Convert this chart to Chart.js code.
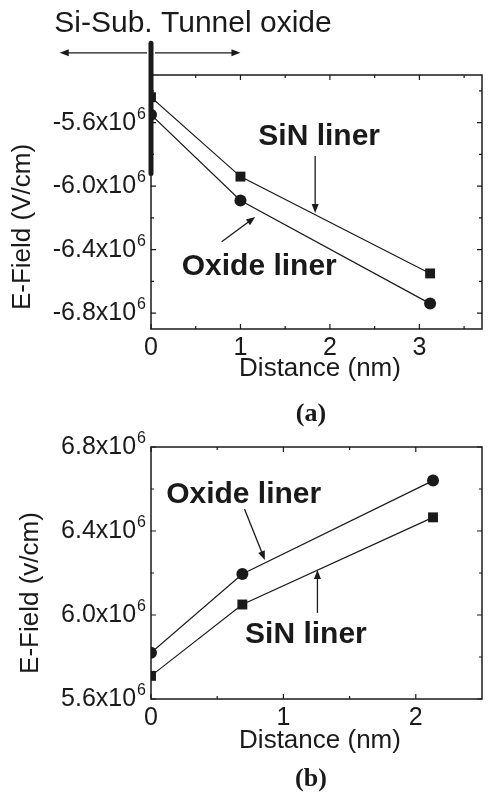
<!DOCTYPE html>
<html>
<head>
<meta charset="utf-8">
<script src="https://cdn.jsdelivr.net/npm/chart.js@4.4.0/dist/chart.umd.min.js"></script>
<style>
    html, body { margin: 0; padding: 0; background: #fff; overflow: hidden; }
    canvas { position: absolute; left: 0; display: block; }
    #chartA { top: 0; }
    #chartB { top: 430px; }
</style>
</head>
<body>
<canvas id="chartA" width="489" height="430"></canvas>
<canvas id="chartB" width="489" height="364"></canvas>
<script>
// values in units of 1e6 V/cm

// panel (a)
const distA = [0, 1, 3.12];
const sinA = [-5.44, -5.94, -6.55];
const oxideA = [-5.55, -6.09, -6.74];
const xTicksA = [0, 1, 2, 3];
const xMinorA = [0.5, 1.5, 2.5, 3.5];
const yTicksA = [-5.6, -6.0, -6.4, -6.8];
const yMinorA = [-5.4, -5.8, -6.2, -6.6];

// panel (b)
const distB = [0, 0.69, 2.13];
const oxideB = [5.82, 6.195, 6.64];
const sinB = [5.71, 6.05, 6.465];
const xTicksB = [0, 1, 2];
const xMinorB = [0.5, 1.5];
const yTicksB = [5.6, 6.0, 6.4, 6.8];
const yMinorB = [5.8, 6.2, 6.6];

// callouts, in data coordinates
const notesA = [
    { text: 'SiN liner', x: 1.88, y: -5.69, arrow: [1.835, -5.81, 1.835, -6.17] },
    { text: 'Oxide liner', x: 1.21, y: -6.505, arrow: [0.79, -6.35, 1.165, -6.195] }
];
const notesB = [
    { text: 'Oxide liner', x: 0.70, y: 6.571, arrow: [0.706, 6.505, 0.86, 6.262] },
    { text: 'SiN liner', x: 1.17, y: 5.905, arrow: [1.257, 6.01, 1.257, 6.214] }
];

const SANS = '"Liberation Sans", Arial, sans-serif';
const INK = '#1a1a1a';

function drawArrow(ctx, x1, y1, x2, y2) {
    const ang = Math.atan2(y2 - y1, x2 - x1);
    const len = 9, half = 3.5;
    ctx.beginPath();
    ctx.moveTo(x1, y1);
    ctx.lineTo(x2 - Math.cos(ang) * len * 0.8, y2 - Math.sin(ang) * len * 0.8);
    ctx.stroke();
    ctx.beginPath();
    ctx.moveTo(x2, y2);
    ctx.lineTo(x2 - Math.cos(ang) * len - Math.sin(ang) * half, y2 - Math.sin(ang) * len + Math.cos(ang) * half);
    ctx.lineTo(x2 - Math.cos(ang) * len + Math.sin(ang) * half, y2 - Math.sin(ang) * len - Math.cos(ang) * half);
    ctx.closePath();
    ctx.fill();
}

// "-6.0x10" with a raised exponent 6
function drawSci(ctx, value, xRight, y) {
    ctx.textBaseline = 'middle';
    ctx.textAlign = 'right';
    ctx.font = '16px ' + SANS;
    const supW = ctx.measureText('6').width;
    ctx.fillText('6', xRight, y - 8.5);
    ctx.font = '25px ' + SANS;
    ctx.fillText(value.toFixed(1) + 'x10', xRight - supW - 1, y);
}

function makeFramePlugin(cfg) {
    return {
        id: 'frame',
        afterDatasetsDraw(chart) {
            const ctx = chart.ctx;
            const a = chart.chartArea;
            const xs = chart.scales.x, ys = chart.scales.y;
            ctx.save();
            ctx.strokeStyle = INK;
            ctx.fillStyle = INK;

            // box
            ctx.lineWidth = 1.5;
            ctx.strokeRect(a.left, a.top, a.right - a.left, a.bottom - a.top);

            // inward ticks on all four sides
            ctx.lineWidth = 1.2;
            const tickX = (v, len) => {
                const px = xs.getPixelForValue(v);
                ctx.beginPath();
                ctx.moveTo(px, a.bottom); ctx.lineTo(px, a.bottom - len);
                ctx.moveTo(px, a.top); ctx.lineTo(px, a.top + len);
                ctx.stroke();
            };
            const tickY = (v, len) => {
                const py = ys.getPixelForValue(v);
                ctx.beginPath();
                ctx.moveTo(a.left, py); ctx.lineTo(a.left + len, py);
                ctx.moveTo(a.right, py); ctx.lineTo(a.right - len, py);
                ctx.stroke();
            };
            cfg.xTicks.forEach(v => tickX(v, 5));
            cfg.xMinor.forEach(v => tickX(v, 3));
            cfg.yTicks.forEach(v => tickY(v, 5));
            cfg.yMinor.forEach(v => tickY(v, 3));

            // tick labels
            ctx.font = '25px ' + SANS;
            ctx.textAlign = 'center';
            ctx.textBaseline = 'middle';
            cfg.xTicks.forEach(v => ctx.fillText(String(v), xs.getPixelForValue(v), a.bottom + 19));
            cfg.yTicks.forEach(v => drawSci(ctx, v, a.left - 5, ys.getPixelForValue(v)));

            // axis titles
            ctx.font = '26px ' + SANS;
            ctx.textAlign = 'center';
            ctx.fillText('Distance (nm)', 320, a.bottom + cfg.xTitleGap);
            ctx.save();
            ctx.translate(cfg.yTitlePos[0], cfg.yTitlePos[1]);
            ctx.rotate(-Math.PI / 2);
            ctx.fillText(cfg.yTitle, 0, 0);
            ctx.restore();

            // panel label
            ctx.font = 'bold 26px "Liberation Serif", "Times New Roman", serif';
            ctx.fillText(cfg.panel, 311, cfg.panelY);

            // callouts
            ctx.font = 'bold 30px ' + SANS;
            ctx.lineWidth = 1.3;
            cfg.notes.forEach(n => {
                ctx.fillText(n.text, xs.getPixelForValue(n.x), ys.getPixelForValue(n.y));
                const [x1, y1, x2, y2] = n.arrow;
                drawArrow(ctx, xs.getPixelForValue(x1), ys.getPixelForValue(y1),
                    xs.getPixelForValue(x2), ys.getPixelForValue(y2));
            });

            if (cfg.interface) {
                const f = cfg.interface;
                const x0 = xs.getPixelForValue(0);
                // thick interface bar
                ctx.lineWidth = 5;
                ctx.lineCap = 'round';
                ctx.beginPath();
                ctx.moveTo(x0, ys.getPixelForValue(f.barTop));
                ctx.lineTo(x0, ys.getPixelForValue(f.barBottom));
                ctx.stroke();
                ctx.lineCap = 'butt';
                // region arrows
                ctx.lineWidth = 1.3;
                const ya = ys.getPixelForValue(f.arrowY);
                drawArrow(ctx, x0 - 4, ya, xs.getPixelForValue(f.leftEnd), ya);
                drawArrow(ctx, x0 + 4, ya, xs.getPixelForValue(f.rightEnd), ya);
                ctx.font = '30px ' + SANS;
                ctx.fillText(f.text, 193, 24);
            }
            ctx.restore();
        }
    };
}

function makeChart(id, cfg) {
    const pts = (xs, ys) => xs.map((x, i) => ({ x: x, y: ys[i] }));
    return new Chart(document.getElementById(id), {
        type: 'line',
        data: {
            datasets: [
                {
                    label: 'SiN liner',
                    data: pts(cfg.dist, cfg.sin),
                    borderColor: INK,
                    backgroundColor: INK,
                    borderWidth: 1.2,
                    pointStyle: 'rect',
                    pointRadius: 7,
                    pointBorderWidth: 0,
                    tension: 0
                },
                {
                    label: 'Oxide liner',
                    data: pts(cfg.dist, cfg.oxide),
                    borderColor: INK,
                    backgroundColor: INK,
                    borderWidth: 1.2,
                    pointStyle: 'circle',
                    pointRadius: 6,
                    pointBorderWidth: 0,
                    tension: 0
                }
            ]
        },
        options: {
            responsive: false,
            animation: false,
            devicePixelRatio: 1,
            layout: { padding: cfg.pad },
            plugins: {
                legend: { display: false },
                tooltip: { enabled: false }
            },
            scales: {
                x: { type: 'linear', min: 0, max: cfg.xMax, display: false },
                y: { type: 'linear', min: cfg.yMin, max: cfg.yMax, display: false }
            }
        },
        plugins: [makeFramePlugin(cfg)]
    });
}

makeChart('chartA', {
    dist: distA, sin: sinA, oxide: oxideA,
    xTicks: xTicksA, xMinor: xMinorA, yTicks: yTicksA, yMinor: yMinorA,
    xMax: 3.7, yMin: -6.9, yMax: -5.3,
    pad: { top: 75, left: 151, right: 1, bottom: 101 },
    notes: notesA,
    yTitle: 'E-Field (V/cm)', yTitlePos: [23, 227], xTitleGap: 40,
    panel: '(a)', panelY: 414,
    interface: { barTop: -5.1, barBottom: -5.92, arrowY: -5.16, leftEnd: -1.02, rightEnd: 1.0, text: 'Si-Sub. Tunnel oxide' }
});

makeChart('chartB', {
    dist: distB, sin: sinB, oxide: oxideB,
    xTicks: xTicksB, xMinor: xMinorB, yTicks: yTicksB, yMinor: yMinorB,
    xMax: 2.5, yMin: 5.6, yMax: 6.8,
    pad: { top: 17, left: 151, right: 1, bottom: 95 },
    notes: notesB,
    yTitle: 'E-Field (v/cm)', yTitlePos: [31, 163], xTitleGap: 42,
    panel: '(b)', panelY: 349
});
</script>
</body>
</html>
